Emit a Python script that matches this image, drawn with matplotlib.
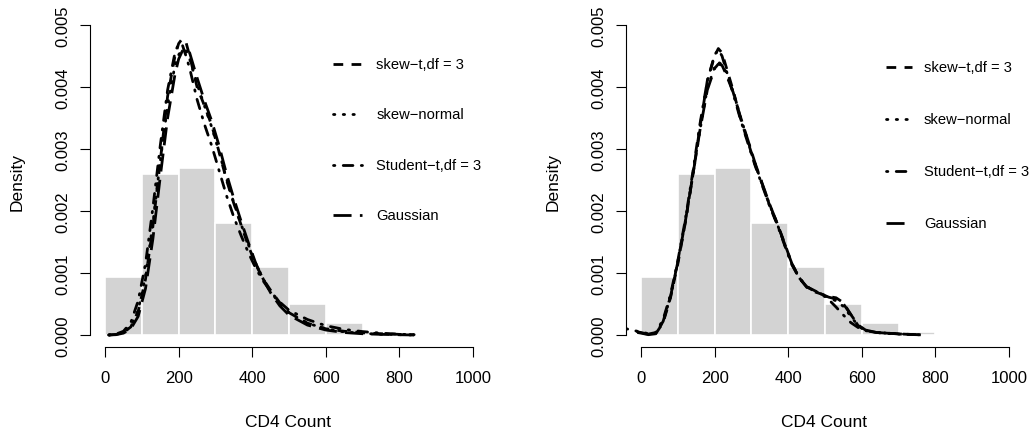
import numpy as np
import matplotlib as mpl
mpl.use('Agg')
import matplotlib.pyplot as plt

plt.rcParams['font.family'] = ['Liberation Sans', 'DejaVu Sans']

# histogram of CD4 counts (density, x1e-3)
bin_edges = [0, 100, 200, 300, 400, 500, 600, 700, 800, 900, 1000]
hist_dens = [0.94, 2.6, 2.7, 1.8, 1.1, 0.5, 0.19, 0.05, 0.0, 0.0]

# left panel fitted densities (x1e-3)
x_left = [10, 30, 50, 70, 90, 110, 130, 150, 170, 190, 200, 210, 220, 230, 250, 270, 290,
          310, 330, 350, 370, 390, 410, 430, 450, 475, 500, 550, 600, 650, 700, 750, 800, 840]
left_skewt = [0.0, 0.01, 0.04, 0.13, 0.38, 0.9, 1.75, 2.8, 3.85, 4.5, 4.7, 4.78, 4.72, 4.5, 4.0,
              3.7, 3.38, 2.95, 2.5, 2.12, 1.77, 1.43, 1.13, 0.9, 0.72, 0.52, 0.36, 0.19, 0.1,
              0.06, 0.035, 0.02, 0.01, 0.004]
left_skewnorm = [0.0, 0.01, 0.04, 0.14, 0.4, 0.95, 1.8, 2.8, 3.7, 4.35, 4.52, 4.6, 4.58, 4.45,
                 4.05, 3.7, 3.35, 2.95, 2.52, 2.13, 1.78, 1.45, 1.15, 0.9, 0.7, 0.5, 0.36, 0.19,
                 0.1, 0.05, 0.025, 0.012, 0.005, 0.0]
left_studt = [0.0, 0.015, 0.06, 0.2, 0.55, 1.15, 2.05, 3.05, 3.95, 4.55, 4.7, 4.68, 4.5, 4.3,
              3.8, 3.4, 3.05, 2.65, 2.25, 1.9, 1.6, 1.32, 1.07, 0.87, 0.7, 0.53, 0.4, 0.25,
              0.15, 0.09, 0.055, 0.03, 0.012, 0.005]
left_gauss = [0.0, 0.005, 0.03, 0.1, 0.3, 0.75, 1.55, 2.55, 3.5, 4.2, 4.45, 4.58, 4.62, 4.55,
              4.15, 3.78, 3.45, 3.05, 2.6, 2.2, 1.83, 1.48, 1.15, 0.9, 0.68, 0.47, 0.32, 0.16,
              0.08, 0.04, 0.02, 0.01, 0.004, 0.0]

# right panel fitted densities (x1e-3)
x_right = [-10, 0, 20, 40, 60, 80, 100, 120, 140, 160, 180, 200, 210, 220, 230, 250, 270, 290,
           310, 330, 350, 370, 390, 410, 430, 450, 470, 490, 510, 530, 550, 570, 590, 610,
           640, 680, 720, 760]
right_skewt = [0.05, 0.04, 0.01, 0.02, 0.2, 0.6, 1.15, 1.8, 2.55, 3.35, 4.1, 4.5, 4.62, 4.55,
               4.35, 3.95, 3.5, 3.12, 2.75, 2.42, 2.08, 1.8, 1.48, 1.15, 0.92, 0.77, 0.7, 0.66,
               0.62, 0.6, 0.52, 0.33, 0.15, 0.07, 0.04, 0.025, 0.012, 0.004]
right_studt = [0.05, 0.04, 0.015, 0.04, 0.25, 0.65, 1.2, 1.85, 2.6, 3.4, 4.1, 4.52, 4.6, 4.5,
               4.3, 3.9, 3.48, 3.1, 2.73, 2.4, 2.07, 1.78, 1.45, 1.13, 0.92, 0.78, 0.72, 0.66,
               0.57, 0.45, 0.32, 0.2, 0.12, 0.07, 0.04, 0.025, 0.012, 0.004]
right_gauss = [0.04, 0.03, 0.005, 0.02, 0.22, 0.62, 1.18, 1.82, 2.55, 3.3, 3.95, 4.3, 4.37,
               4.35, 4.22, 3.92, 3.52, 3.15, 2.77, 2.43, 2.1, 1.8, 1.47, 1.15, 0.92, 0.78, 0.71,
               0.66, 0.61, 0.58, 0.5, 0.33, 0.16, 0.08, 0.04, 0.025, 0.01, 0.003]
x_right_sn = [-40, -25, -10, 0, 20, 40, 60, 80, 100, 120, 140, 160, 180, 200, 210, 220, 230,
              250, 270, 290, 310, 330, 350, 370, 390, 410, 430, 450, 470, 490, 510, 530, 550,
              570, 590, 610, 640, 680, 720, 760]
right_skewnorm = [0.1, 0.08, 0.06, 0.05, 0.02, 0.03, 0.22, 0.62, 1.18, 1.82, 2.55, 3.3, 3.98,
                  4.32, 4.4, 4.36, 4.25, 3.93, 3.52, 3.14, 2.76, 2.42, 2.09, 1.79, 1.46, 1.14,
                  0.92, 0.78, 0.71, 0.66, 0.6, 0.55, 0.46, 0.3, 0.15, 0.07, 0.04, 0.02, 0.01,
                  0.003]

legend_labels = ['skew\u2212t,df = 3', 'skew\u2212normal', 'Student\u2212t,df = 3', 'Gaussian']
styles = [(0, (3.5, 3)), (0, (0.5, 3)), (0, (0.5, 3, 3.5, 3)), (0, (6.5, 3))]
caps = ['butt', 'round', 'round', 'butt']

fig = plt.figure(figsize=(10.31, 4.35), dpi=100)
ax_l = fig.add_axes([0.0876, 0.1991, 0.3855, 0.7697])
ax_r = fig.add_axes([0.6075, 0.1991, 0.3855, 0.7697])

panels = [
    (ax_l, [(x_left, left_skewt), (x_left, left_skewnorm), (x_left, left_studt), (x_left, left_gauss)],
     (0.611, 0.684, 0.720), [0.8465, 0.697, 0.545, 0.396]),
    (ax_r, [(x_right, right_skewt), (x_right_sn, right_skewnorm), (x_right, right_studt), (x_right, right_gauss)],
     (0.6535, 0.719, 0.749), [0.8375, 0.682, 0.527, 0.372]),
]

edges = np.array(bin_edges)
for ax, curves, (hx0, hx1, tx), rows in panels:
    ax.bar(edges[:-1], np.array(hist_dens) * 1e-3, width=np.diff(edges), align='edge',
           color='#D3D3D3', edgecolor='white', linewidth=1.2, zorder=1)
    for (xs, ys), ls, cap in zip(curves, styles, caps):
        ax.plot(xs, np.array(ys) * 1e-3, color='black', linestyle=ls, linewidth=2,
                dash_capstyle=cap, zorder=2)

    # legend drawn by hand, no box
    for lab, ls, cap, yy in zip(legend_labels, styles, caps, rows):
        ax.plot([hx0, hx1], [yy, yy], transform=ax.transAxes, color='black', linestyle=ls,
                linewidth=2, dash_capstyle=cap, clip_on=False)
        ax.text(tx, yy, lab, transform=ax.transAxes, fontsize=10.6, va='center', ha='left',
                clip_on=False)

    ax.set_xlim(-40, 1040)
    ax.set_ylim(-0.0002, 0.0052)
    ax.set_xticks(np.arange(0, 1001, 200))
    ax.set_yticks(np.arange(0, 0.0051, 0.001))
    ax.set_yticklabels(['%.3f' % v for v in np.arange(0, 0.0051, 0.001)])
    for lbl in ax.get_yticklabels():
        lbl.set_rotation(90)
        lbl.set_va('center')
    ax.tick_params(axis='both', direction='out', length=7.5, width=0.8, labelsize=12)
    ax.tick_params(axis='x', pad=9)
    ax.tick_params(axis='y', pad=7)

    for side in ['top', 'right']:
        ax.spines[side].set_visible(False)
    ax.spines['left'].set_bounds(0, 0.005)
    ax.spines['bottom'].set_bounds(0, 1000)
    ax.spines['left'].set_linewidth(0.8)
    ax.spines['bottom'].set_linewidth(0.8)

    ax.set_xlabel('CD4 Count', fontsize=12.5, va='center')
    ax.set_ylabel('Density', fontsize=12.5, va='center')
    ax.xaxis.set_label_coords(0.4975, -0.2228)
    ax.yaxis.set_label_coords(-0.1845, 0.497)

fig.savefig('out.png', dpi=100)
